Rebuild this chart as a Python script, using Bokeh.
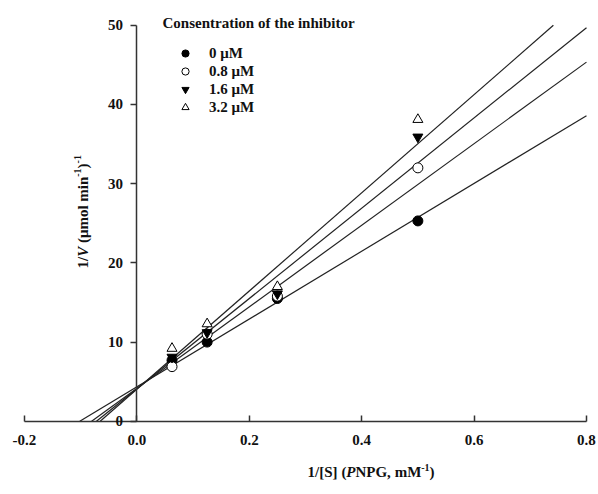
import math
from bokeh.plotting import figure
from bokeh.models import (LinearAxis, FixedTicker, PrintfTickFormatter, Label,
                          Legend, LegendItem, Range1d)
from bokeh.embed import file_html
from bokeh.resources import INLINE

# ---- data ----
inv_s = [0.0625, 0.125, 0.25, 0.5]            # 1/[S] (PNPG, mM^-1)
inv_v_0 = [7.7, 10.0, 15.5, 25.3]              # 0 µM
inv_v_08 = [6.9, 11.0, 15.8, 32.0]             # 0.8 µM
inv_v_16 = [8.1, 11.2, 16.1, 35.9]             # 1.6 µM
inv_v_32 = [9.2, 12.3, 17.0, 38.1]             # 3.2 µM
series_labels = ["0 μM", "0.8 μM", "1.6 μM", "3.2 μM"]
fit_intercepts = [4.35, 4.15, 4.10, 4.05]      # Lineweaver-Burk fit lines
fit_slopes = [42.8, 51.5, 57.0, 62.0]
x_ticks = [-0.2, 0.0, 0.2, 0.4, 0.6, 0.8]
y_ticks = [0, 10, 20, 30, 40, 50]
legend_title = "Consentration of the inhibitor"

FONT = "Liberation Serif"
AX = "#333333"
TXT = "#111111"

x_lo, x_hi = x_ticks[0], x_ticks[-1]
y_lo, y_hi = y_ticks[0], y_ticks[-1]

# frame covers the whole canvas so that the titles drawn as labels and the
# edge tick labels are not clipped; the axes are bounded to the data ranges
p = figure(frame_width=598, frame_height=485,
           x_range=Range1d(-0.2427, 0.8214),
           y_range=Range1d(-8.74, 52.5),
           x_axis_location=None, y_axis_location=None,
           toolbar_location=None, output_backend="svg",
           min_border_left=0, min_border_right=0, min_border_top=5,
           min_border_bottom=0)
p.outline_line_color = None
p.background_fill_color = "white"
for g in p.grid:
    g.visible = False


def style_axis(ax):
    ax.minor_tick_line_color = None
    ax.axis_line_color = AX
    ax.axis_line_width = 1.5
    ax.major_tick_line_color = AX
    ax.major_tick_line_width = 1.5
    ax.major_label_text_font = FONT
    ax.major_label_text_font_style = "bold"
    ax.major_label_text_font_size = "15px"
    ax.major_label_text_color = TXT


# x axis at y = 0, ticks pointing up
xa = LinearAxis(fixed_location=0, ticker=FixedTicker(ticks=x_ticks),
                formatter=PrintfTickFormatter(format="%.1f"),
                bounds=(x_lo, x_hi))
style_axis(xa)
xa.major_tick_in = 6
xa.major_tick_out = 0
xa.major_label_standoff = 14
p.add_layout(xa, "below")

# y axis crossing at x = 0
ya = LinearAxis(fixed_location=0, ticker=FixedTicker(ticks=y_ticks),
                bounds=(y_lo, y_hi))
style_axis(ya)
ya.major_tick_in = 0
ya.major_tick_out = 6
ya.major_label_standoff = 8
p.add_layout(ya, "left")

# regression lines (from x-intercept up to the right edge or the top)
for b, m in zip(fit_intercepts, fit_slopes):
    x0 = -b / m
    x1 = min(x_hi, (y_hi - b) / m)
    p.line([x0, x1], [0, b + m * x1], line_color="#222222", line_width=1.2)

# points
series = [inv_v_0, inv_v_08, inv_v_16, inv_v_32]
styles = [("circle", "black"), ("circle", "white"),
          ("inverted_triangle", "black"), ("triangle", "white")]
items = []
for ys, (mk, fill), lab in zip(series, styles, series_labels):
    r = p.scatter(inv_s, ys, marker=mk, size=10, fill_color=fill,
                  line_color="black", line_width=1)
    items.append(LegendItem(label=lab, renderers=[r]))

legend = Legend(items=items, location=(162, 374),
                label_text_font=FONT, label_text_font_style="bold",
                label_text_font_size="15px", label_text_color=TXT,
                glyph_width=46, glyph_height=18, label_height=18,
                label_standoff=1, spacing=0, padding=0, margin=0,
                border_line_color=None, background_fill_alpha=0)
p.add_layout(legend)


def piece(text, x, y, xo, yo, size="15px", style="bold", angle=0.0):
    p.add_layout(Label(x=x, y=y, x_offset=xo, y_offset=yo, text=text,
                       text_font=FONT, text_font_size=size,
                       text_font_style=style, text_align="left",
                       text_baseline="middle", angle=angle,
                       text_color=TXT))


# legend title
piece(legend_title, 0.0456, 50.25, 0, 0)

# x axis title: 1/[S] (PNPG, mM^-1)
xl_x, xl_y = 0.3036, -6.44
piece("1/[S]", xl_x, xl_y, 0, 0)
piece("(", xl_x, xl_y, 34.0, 0)
piece("P", xl_x, xl_y, 38.7, 0, style="bold italic")
piece("NPG,", xl_x, xl_y, 47.9, 0)
piece("mM", xl_x, xl_y, 87.2, 0)
piece("-1", xl_x, xl_y, 113.7, 5, size="10px")
piece(")", xl_x, xl_y, 122.0, 0)

# y axis title: 1/V (µmol min^-1)^-1
yl_x, yl_y = -0.0965, 19.3
rot = math.pi / 2
piece("1/", yl_x, yl_y, 0, 0, angle=rot)
piece("V", yl_x, yl_y, 0, 11.7, style="bold italic", angle=rot)
piece("(μmol", yl_x, yl_y, 0, 25.4, angle=rot)
piece("min", yl_x, yl_y, 0, 66.7, angle=rot)
piece("-1", yl_x, yl_y, -5, 91.7, size="10px", angle=rot)
piece(")", yl_x, yl_y, 0, 100.0, angle=rot)
piece("-1", yl_x, yl_y, -5, 105.0, size="10px", angle=rot)

open("out.html", "w").write(file_html(p, INLINE))
